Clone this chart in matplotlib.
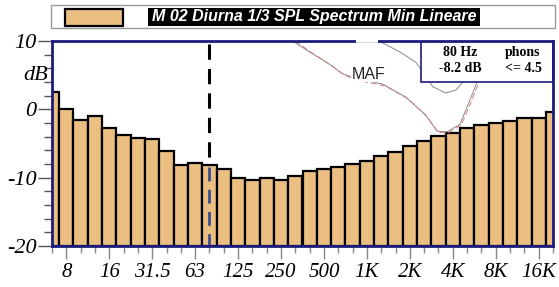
import matplotlib
matplotlib.use("Agg")
import matplotlib.pyplot as plt
from matplotlib.patches import Rectangle

bands = ["6.3", "8", "10", "12.5", "16", "20", "25", "31.5", "40", "50", "63", "80",
         "100", "125", "160", "200", "250", "315", "400", "500", "630", "800", "1K",
         "1.25K", "1.6K", "2K", "2.5K", "3.15K", "4K", "5K", "6.3K", "8K", "10K",
         "12.5K", "16K", "20K"]
levels = [2.6, 0.0, -1.5, -1.0, -2.8, -3.7, -4.2, -4.3, -6.1, -8.1, -7.9, -8.2,
          -8.8, -10.1, -10.3, -10.0, -10.4, -9.7, -9.0, -8.8, -8.4, -8.0, -7.5,
          -6.9, -6.3, -5.4, -4.7, -3.9, -3.4, -2.8, -2.3, -2.0, -1.7, -1.3, -1.3, -0.4]
labeled = ["8", "16", "31.5", "63", "125", "250", "500", "1K", "2K", "4K", "8K", "16K"]

maf_a_x = [16.8, 18.0, 19.4, 20.3, 21.5, 23.1, 24.7, 26.1, 26.9, 27.6, 28.5, 29.2, 29.7, 30.1]
maf_a_y = [10.0, 8.4, 6.6, 5.2, 4.4, 3.7, 1.8, -0.8, -3.2, -3.3, -2.2, 1.4, 4.0, 7.0]
maf_r_x = [17.0, 18.2, 19.6, 20.5, 21.7, 23.3, 24.9, 26.2, 27.0, 27.7, 28.6, 29.3, 29.8, 30.2]
maf_r_y = [10.0, 8.2, 6.3, 4.9, 4.1, 3.4, 1.5, -1.1, -3.4, -3.4, -2.3, 1.2, 3.8, 6.8]
maf_b_x = [22.85, 24.3, 25.4, 26.1, 26.6, 27.5, 28.2, 28.65, 29.2]
maf_b_y = [10.0, 8.4, 6.9, 5.0, 3.3, 2.4, 2.8, 3.85, 6.0]

sel_index = 11
sel_freq = "80 Hz"
sel_level = "-8.2 dB"
phons = "<= 4.5"

W, H = 559, 287
fig = plt.figure(figsize=(W / 100, H / 100), dpi=100)
ax = fig.add_axes([52 / W, 1 - 246 / H, (553 - 52) / W, (246 - 41) / H])

navy = "#1c1c7c"
x = list(range(len(bands)))
ax.bar(x, [l - (-20) for l in levels], bottom=-20, width=1.0, color="#EBBE82",
       edgecolor="black", linewidth=1.6, zorder=2)
ax.set_xlim(0, len(bands) - 1)
ax.set_ylim(-20, 10)

# MAF curves
ax.plot(maf_a_x, maf_a_y, color="#8a8a8a", lw=0.7, zorder=3)
ax.plot(maf_r_x, maf_r_y, color="#d08080", lw=0.7, ls=(0, (6, 3)), zorder=3)
ax.plot(maf_b_x, maf_b_y, color="#8a8a8a", lw=0.7, zorder=3)
ax.text(22.1, 5.1, "MAF", fontsize=11.5, family="Liberation Sans", color="#222222",
        ha="center", va="center", zorder=4,
        bbox=dict(facecolor="white", edgecolor="none", pad=0.3))

# selected band line
ax.plot([sel_index, sel_index], [9.6, levels[sel_index]], color="black", lw=2.2,
        ls=(0, (5, 3)), zorder=5)
ax.plot([sel_index, sel_index], [levels[sel_index] - 0.3, -20], color="#3a4f8a", lw=2.0,
        ls=(0, (5, 3)), zorder=5)

# info box
ax.add_patch(Rectangle((25.8, 4.0), 9.2, 6.0, facecolor="white", edgecolor=navy,
                       lw=1.2, zorder=6))
tf = dict(family="Liberation Serif", fontweight="bold", fontsize=10, zorder=7,
          ha="center", va="center")
ax.text(28.5, 8.3, sel_freq, **tf)
ax.text(28.5, 6.0, sel_level, **tf)
ax.text(32.9, 8.3, "phons", **tf)
ax.text(32.9, 6.0, phons, **tf)

# spines
for s in ax.spines.values():
    s.set_color(navy)
    s.set_linewidth(2.0)
    s.set_zorder(8)
# small gap in the top frame line
ax.plot([21.25, 22.8], [10, 10], color="white", lw=2.6, zorder=9, clip_on=False,
        solid_capstyle="butt")

# y ticks
ax.set_yticks([10, 0, -10, -20])
ax.set_yticklabels(["10", "0", "-10", "-20"])
ax.set_yticks([8, 6, 4, 2, -2, -4, -6, -8, -12, -14, -16, -18], minor=True)
ax.tick_params(axis="y", which="major", length=10, width=1, color="#555555", pad=1,
               labelsize=16)
ax.tick_params(axis="y", which="minor", length=6, width=1, color="#555555")
for lab in ax.get_yticklabels():
    lab.set_family("Liberation Serif")
    lab.set_style("italic")
ax.text(-0.25, 4.9, "dB", transform=ax.transData, ha="right", va="center",
        family="Liberation Serif", style="italic", fontsize=16, clip_on=False)

# x ticks
major_idx = [bands.index(b) for b in labeled]
ax.set_xticks(major_idx)
ax.set_xticklabels(labeled)
ax.set_xticks([i for i in x if i not in major_idx], minor=True)
ax.tick_params(axis="x", which="major", length=9, width=1, color="#888888", pad=3,
               labelsize=15)
ax.tick_params(axis="x", which="minor", length=5, width=1, color="#888888")
for lab in ax.get_xticklabels():
    lab.set_family("Liberation Serif")
    lab.set_style("italic")

# legend box at top
fig.patches.append(Rectangle((51 / W, 1 - 28 / H), (555 - 51) / W, 23 / H,
                             transform=fig.transFigure, facecolor="white",
                             edgecolor="#999999", lw=1.0))
fig.patches.append(Rectangle((65 / W, 1 - 26 / H), (123 - 65) / W, 17 / H,
                             transform=fig.transFigure, facecolor="#EBBE82",
                             edgecolor="black", lw=1.6))
fig.patches.append(Rectangle((148 / W, 1 - 26 / H), (480 - 148) / W, 18 / H,
                             transform=fig.transFigure, facecolor="black",
                             edgecolor="none"))
fig.text(314 / W, 1 - 17 / H, "M 02 Diurna 1/3 SPL Spectrum Min Lineare",
         color="white", fontsize=11.5, fontweight="bold", style="italic",
         family="Liberation Sans", ha="center", va="center")

fig.savefig("out.png", dpi=100, facecolor="white")
